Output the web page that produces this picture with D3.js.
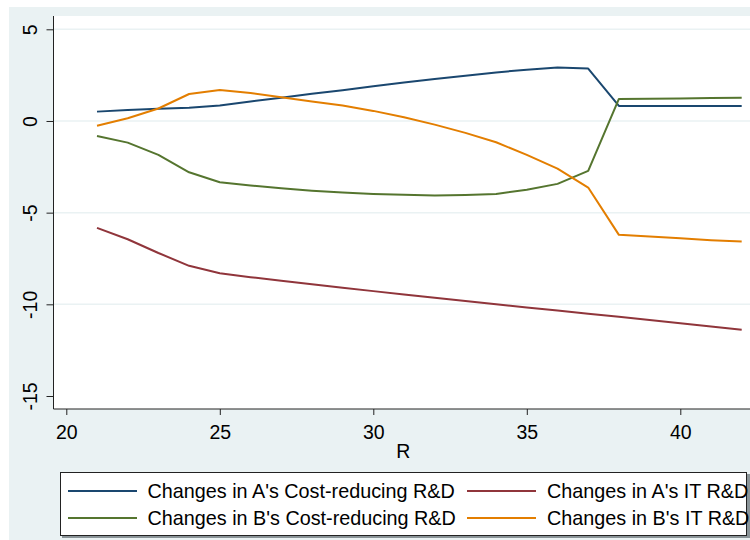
<!DOCTYPE html>
<html>
<head>
<meta charset="utf-8">
<script src="https://cdn.jsdelivr.net/npm/d3@7"></script>
<style>
  html, body { margin: 0; padding: 0; background: #ffffff; }
  svg { display: block; font-family: "Liberation Sans", Arial, sans-serif; }
</style>
</head>
<body>
<svg id="chart" width="750" height="540"></svg>
<script>
// R values (x axis)
const rValues = [21, 22, 23, 24, 25, 26, 27, 28, 29, 30, 31, 32, 33, 34, 35, 36, 37, 38, 39, 40, 41, 42];

// Series values
const aCostReducing = [0.51, 0.60, 0.66, 0.72, 0.85, 1.06, 1.27, 1.48, 1.68, 1.89, 2.10, 2.29, 2.47, 2.65, 2.80, 2.91, 2.86, 0.82, 0.82, 0.82, 0.82, 0.82];
const aIT = [-5.83, -6.45, -7.20, -7.90, -8.30, -8.52, -8.72, -8.91, -9.10, -9.28, -9.46, -9.64, -9.82, -10.00, -10.17, -10.34, -10.51, -10.68, -10.86, -11.03, -11.21, -11.39];
const bCostReducing = [-0.82, -1.18, -1.85, -2.80, -3.34, -3.52, -3.67, -3.80, -3.90, -3.98, -4.03, -4.07, -4.04, -3.98, -3.75, -3.43, -2.72, 1.20, 1.21, 1.22, 1.25, 1.27];
const bIT = [-0.26, 0.15, 0.68, 1.47, 1.69, 1.52, 1.29, 1.06, 0.84, 0.55, 0.20, -0.20, -0.65, -1.16, -1.85, -2.60, -3.63, -6.21, -6.30, -6.40, -6.50, -6.58];

// Axis ticks
const xTicks = [20, 25, 30, 35, 40];
const yTicks = [5, 0, -5, -10, -15];

// Legend labels (drawn in this order: row by row)
const seriesNames = [
  "Changes in A's Cost-reducing R&D",
  "Changes in A's IT R&D",
  "Changes in B's Cost-reducing R&D",
  "Changes in B's IT R&D"
];
const seriesColors = ["#1a476f", "#90353b", "#55752f", "#e37e00"];
const seriesData = [aCostReducing, aIT, bCostReducing, bIT];

const svg = d3.select("#chart");

// Outer graph region (light blue-gray)
svg.append("rect")
  .attr("x", 9).attr("y", 7)
  .attr("width", 800).attr("height", 540)
  .attr("fill", "#eaf2f3");

// Plot region
const plot = { left: 53.5, top: 16, right: 753, bottom: 409 };
svg.append("rect")
  .attr("x", plot.left).attr("y", plot.top)
  .attr("width", plot.right - plot.left).attr("height", plot.bottom - plot.top)
  .attr("fill", "#ffffff");

const x = d3.scaleLinear().domain([20, 42]).range([66.3, 741.7]);
const y = d3.scaleLinear().domain([5, -15]).range([29.3, 396]);

// Horizontal grid lines
svg.append("g")
  .selectAll("line")
  .data(yTicks.filter(t => t !== -15))
  .join("line")
  .attr("x1", plot.left).attr("x2", plot.right)
  .attr("y1", d => y(d)).attr("y2", d => y(d))
  .attr("stroke", "#eaf2f3")
  .attr("stroke-width", 1.5);

// Series lines
const line = d3.line()
  .x((d, i) => x(rValues[i]))
  .y(d => y(d));

svg.append("g")
  .selectAll("path")
  .data(seriesData)
  .join("path")
  .attr("d", d => line(d))
  .attr("fill", "none")
  .attr("stroke", (d, i) => seriesColors[i])
  .attr("stroke-width", 2)
  .attr("stroke-linejoin", "round");

// Y axis
const yAxis = svg.append("g")
  .attr("transform", `translate(${plot.left},0)`)
  .call(d3.axisLeft(y).tickValues(yTicks).tickSize(7).tickSizeOuter(0).tickFormat(d3.format("d")));
yAxis.select(".domain").attr("d", `M0,${plot.top}V${plot.bottom}`).attr("stroke", "#222");
yAxis.selectAll(".tick line").attr("stroke", "#222");
yAxis.selectAll(".tick text")
  .attr("transform", "rotate(-90)")
  .attr("x", 0).attr("y", -16.6).attr("dy", 0)
  .attr("text-anchor", "middle")
  .attr("fill", "#000")
  .style("font-size", "19.5px")
  .style("font-family", "'Liberation Sans', Arial, sans-serif")
  .text(d => d3.format("d")(d).replace("\u2212", "-"));

// X axis
const xAxis = svg.append("g")
  .attr("transform", `translate(0,${plot.bottom})`)
  .call(d3.axisBottom(x).tickValues(xTicks).tickSize(6).tickSizeOuter(0).tickFormat(d3.format("d")));
xAxis.select(".domain").attr("d", `M${plot.left},0H${plot.right}`).attr("stroke", "#222");
xAxis.selectAll(".tick line").attr("stroke", "#222");
xAxis.selectAll(".tick text")
  .attr("y", 29.5).attr("dy", 0)
  .attr("fill", "#000")
  .style("font-size", "19.5px")
  .style("font-family", "'Liberation Sans', Arial, sans-serif");

// X axis title
svg.append("text")
  .attr("x", (plot.left + plot.right) / 2)
  .attr("y", 458)
  .attr("text-anchor", "middle")
  .style("font-size", "19.5px")
  .attr("fill", "#000")
  .text("R");

// Legend
const legend = svg.append("g");
legend.append("rect")
  .attr("x", 62).attr("y", 474)
  .attr("width", 690).attr("height", 64)
  .attr("fill", "#8a9498");
legend.append("rect")
  .attr("x", 60.5).attr("y", 472.5)
  .attr("width", 686).attr("height", 63)
  .attr("fill", "#ffffff")
  .attr("stroke", "#222")
  .attr("stroke-width", 1);

const colX = [{ line: 68, text: 147.5 }, { line: 467, text: 547 }];
const rowY = [491, 518];
seriesNames.forEach((name, i) => {
  const c = colX[i % 2];
  const r = rowY[Math.floor(i / 2)];
  legend.append("line")
    .attr("x1", c.line).attr("x2", c.line + 69)
    .attr("y1", r).attr("y2", r)
    .attr("stroke", seriesColors[i])
    .attr("stroke-width", 2);
  legend.append("text")
    .attr("x", c.text).attr("y", r + 7)
    .style("font-size", "19.8px")
    .attr("fill", "#000")
    .text(name);
});
</script>
</body>
</html>
